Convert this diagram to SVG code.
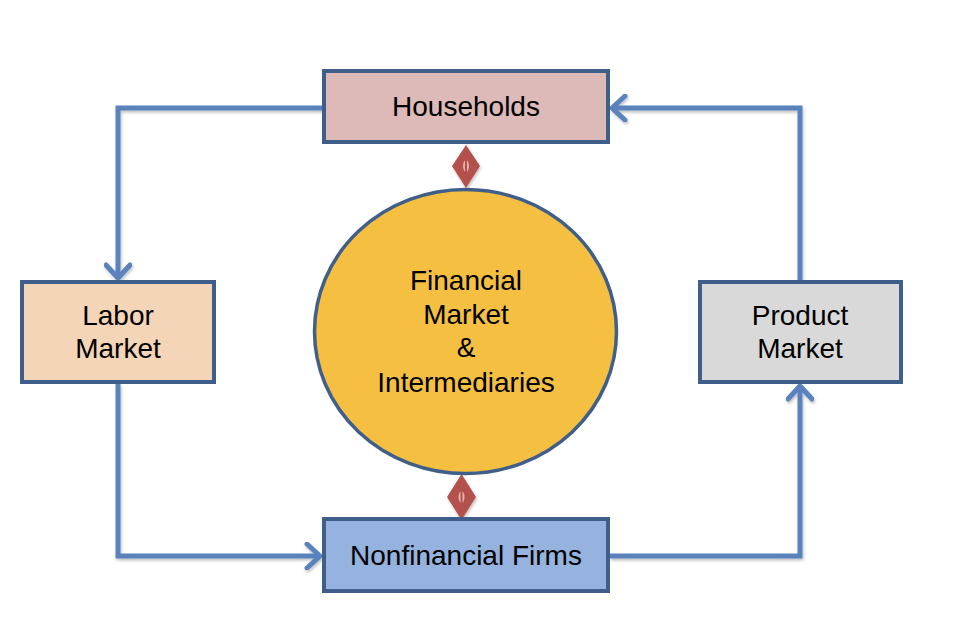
<svg xmlns="http://www.w3.org/2000/svg" width="966" height="636" viewBox="0 0 966 636">
<defs>
<style>
.box{stroke:#3f5f8a;stroke-width:4;}
.lbl{font-family:"Liberation Sans",Arial,sans-serif;font-size:28px;fill:#000;text-anchor:middle;}
.conn{fill:none;stroke:#5a82bd;stroke-width:5;stroke-linejoin:miter;}
.dia{fill:#b5514e;}
</style>
<marker id="chev" viewBox="-16 -14 20 28" markerWidth="20" markerHeight="28" refX="0" refY="0" orient="auto" markerUnits="userSpaceOnUse">
<path d="M-13,-12 L0,0 L-13,12" fill="none" stroke="#5a82bd" stroke-width="5" stroke-linecap="round" stroke-linejoin="round"/>
</marker>
<filter id="sh" x="-10%" y="-10%" width="120%" height="120%">
<feDropShadow dx="1" dy="2" stdDeviation="1.5" flood-color="#000" flood-opacity="0.25"/>
</filter>
</defs>
<rect width="966" height="636" fill="#fff"/>
<g id="connectors" filter="url(#sh)">
<path class="conn" d="M324,108 H118 V278" marker-end="url(#chev)"/>
<path class="conn" d="M800,282 V108 H612" marker-end="url(#chev)"/>
<path class="conn" d="M118,384 V556 H320" marker-end="url(#chev)"/>
<path class="conn" d="M610,556 H800 V386" marker-end="url(#chev)"/>
<g id="link-top">
<polygon class="dia" points="466,145 480,166 466,188 452,166"/>
<ellipse cx="466" cy="166" rx="3" ry="6" fill="#e7b0ad"/>
<line x1="466" y1="159" x2="466" y2="173" stroke="#b5514e" stroke-width="2"/>
</g>
<g id="link-bottom">
<polygon class="dia" points="461.5,474 476,497 461.5,520 447,497"/>
<ellipse cx="461.5" cy="497" rx="3" ry="6" fill="#e7b0ad"/>
<line x1="461.5" y1="490" x2="461.5" y2="504" stroke="#b5514e" stroke-width="2"/>
</g>
</g>
<g id="households">
<rect class="box" x="324" y="71" width="284" height="71" fill="#ddb9b8"/>
<text class="lbl" x="466" y="116">Households</text>
</g>
<g id="labor-market">
<rect class="box" x="22" y="282" width="192" height="100" fill="#f5d5b8"/>
<text class="lbl" x="118" y="325">Labor</text>
<text class="lbl" x="118" y="358">Market</text>
</g>
<g id="product-market">
<rect class="box" x="700" y="282" width="201" height="100" fill="#d9d9d9"/>
<text class="lbl" x="800" y="325">Product</text>
<text class="lbl" x="800" y="358">Market</text>
</g>
<g id="financial-market">
<ellipse cx="465.5" cy="331.5" rx="151" ry="142" fill="#f5bf42" stroke="#3f5f8a" stroke-width="3.5"/>
<text class="lbl" x="466" y="290">Financial</text>
<text class="lbl" x="466" y="324">Market</text>
<text class="lbl" x="466" y="357">&amp;</text>
<text class="lbl" x="466" y="392">Intermediaries</text>
</g>
<g id="nonfinancial-firms">
<rect class="box" x="324" y="519" width="284" height="72" fill="#95b3de"/>
<text class="lbl" x="466" y="565">Nonfinancial Firms</text>
</g>
</svg>
